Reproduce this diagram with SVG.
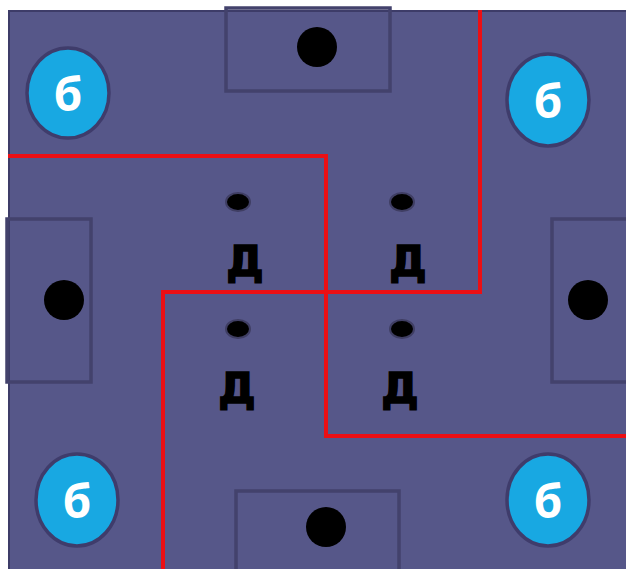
<svg xmlns="http://www.w3.org/2000/svg" width="626" height="569" viewBox="0 0 626 569">
<style>
.bg{fill:#565789;stroke:#3d3c68;stroke-width:2}
.box{fill:none;stroke:#43426c;stroke-width:3.5}
.dot{fill:#000}
.oval{fill:#000;stroke:#3f3e63;stroke-width:2}
.circ{fill:#18a8e2;stroke:#3f3c6b;stroke-width:3.5}
.b{font-family:"Open Sans","DejaVu Sans",sans-serif;font-weight:700;font-size:46px;fill:#fff;text-anchor:middle}
.d{font-family:"DejaVu Sans","Liberation Sans",sans-serif;font-weight:700;font-size:42px;fill:#000;stroke:#000;stroke-width:1.5;text-anchor:middle}
.red{fill:none;stroke:#ec0f14;stroke-width:4}
</style>
<rect class="bg" x="9" y="11" width="620" height="562"/>
<g id="goal-top"><rect class="box" x="226" y="8" width="164" height="83"/><circle class="dot" cx="317" cy="47" r="20"/></g>
<g id="goal-left"><rect class="box" x="7" y="219" width="84" height="163"/><circle class="dot" cx="64" cy="300" r="20"/></g>
<g id="goal-right"><rect class="box" x="552" y="219" width="80" height="163"/><circle class="dot" cx="588" cy="300" r="20"/></g>
<g id="goal-bottom"><rect class="box" x="236" y="491" width="163" height="85"/><circle class="dot" cx="326" cy="527" r="20"/></g>
<g id="connectors">
<polyline class="red" points="8,156 326,156 326,436 626,436"/>
<polyline class="red" points="480,10 480,292 163,292 163,569"/>
</g>
<g id="b-tl"><ellipse class="circ" cx="68" cy="93" rx="41" ry="45"/><text class="b" x="68" y="111">б</text></g>
<g id="b-tr"><ellipse class="circ" cx="548" cy="100" rx="41" ry="46"/><text class="b" x="548" y="118">б</text></g>
<g id="b-bl"><ellipse class="circ" cx="77" cy="500" rx="41" ry="46"/><text class="b" x="77" y="518">б</text></g>
<g id="b-br"><ellipse class="circ" cx="548" cy="500" rx="41" ry="46"/><text class="b" x="548" y="518">б</text></g>
<g id="d-tl"><ellipse class="oval" cx="238" cy="202" rx="12" ry="9"/><text class="d" x="245" y="276">Д</text></g>
<g id="d-tr"><ellipse class="oval" cx="402" cy="202" rx="12" ry="9"/><text class="d" x="408" y="276">Д</text></g>
<g id="d-bl"><ellipse class="oval" cx="238" cy="329" rx="12" ry="9"/><text class="d" x="237" y="403">Д</text></g>
<g id="d-br"><ellipse class="oval" cx="402" cy="329" rx="12" ry="9"/><text class="d" x="400" y="403">Д</text></g>
</svg>
